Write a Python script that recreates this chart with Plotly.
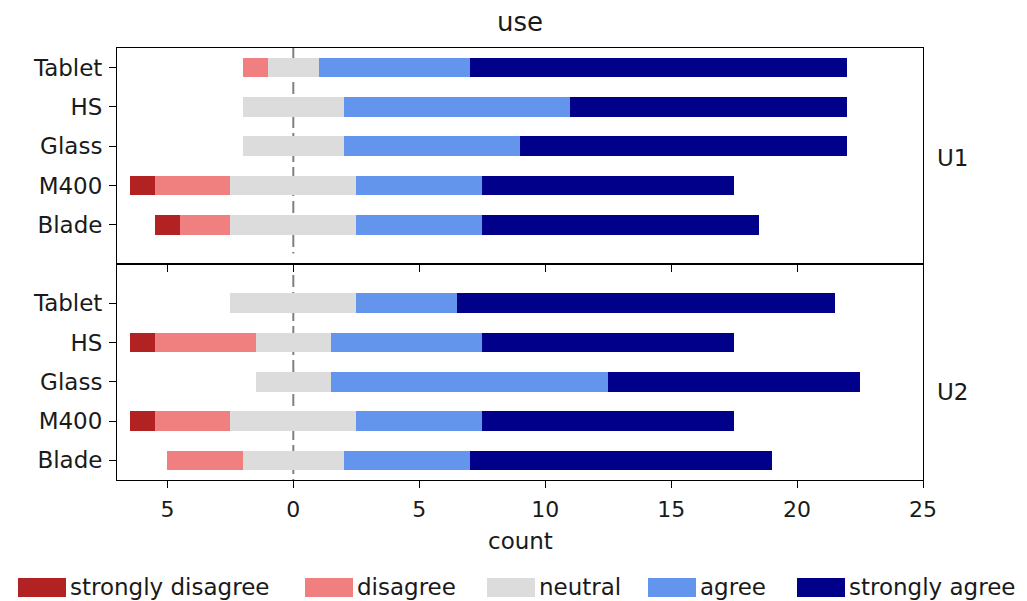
import plotly.graph_objects as go
from plotly.subplots import make_subplots

categories = ["Tablet", "HS", "Glass", "M400", "Blade"]
levels = ["strongly disagree", "disagree", "neutral", "agree", "strongly agree"]
colors = ["#b22222", "#f08080", "#dcdcdc", "#6495ed", "#00008b"]

# counts per level for each group (order of categories)
u1 = {
    "strongly disagree": [0, 0, 0, 1, 1],
    "disagree":          [1, 0, 0, 3, 2],
    "neutral":           [2, 4, 4, 5, 5],
    "agree":             [6, 9, 7, 5, 5],
    "strongly agree":    [15, 11, 13, 10, 11],
}
u2 = {
    "strongly disagree": [0, 1, 0, 1, 0],
    "disagree":          [0, 4, 0, 3, 3],
    "neutral":           [5, 3, 3, 5, 4],
    "agree":             [4, 6, 11, 5, 5],
    "strongly agree":    [15, 10, 10, 10, 12],
}
groups = [("U1", u1), ("U2", u2)]

x_tickvals = [-5, 0, 5, 10, 15, 20, 25]
x_ticktext = ["5", "0", "5", "10", "15", "20", "25"]

FONT = "DejaVu Sans"
INK = "#1a1a1a"
fig = make_subplots(rows=2, cols=1, shared_xaxes=True, vertical_spacing=0)

for r, (gname, data) in enumerate(groups, start=1):
    starts = [-(data["strongly disagree"][i] + data["disagree"][i] + data["neutral"][i] / 2)
              for i in range(len(categories))]
    cum = list(starts)
    for lvl, col in zip(levels, colors):
        vals = data[lvl]
        fig.add_trace(go.Bar(
            y=categories, x=vals, base=cum, orientation="h",
            marker=dict(color=col, line=dict(width=0)),
            width=0.5, name=lvl, showlegend=False,
        ), row=r, col=1)
        cum = [c + v for c, v in zip(cum, vals)]

axis_common = dict(showline=True, linecolor="black", linewidth=1, mirror=True,
                   ticks="outside", ticklen=7, tickcolor="black", showgrid=False,
                   zeroline=False)

fig.update_yaxes(type="category", categoryorder="array", categoryarray=categories,
                 tickfont=dict(family=FONT, size=23, color=INK), ticklabelstandoff=2,
                 **axis_common)
fig.update_yaxes(range=[5.0, -0.5], row=1, col=1)
fig.update_yaxes(range=[4.5, -1.0], row=2, col=1)
fig.update_xaxes(range=[-7, 25], tickvals=x_tickvals, ticktext=x_ticktext,
                 tickfont=dict(family=FONT, size=22, color=INK), ticklabelstandoff=3,
                 **axis_common)

# vertical dashed line at zero
dash_style = dict(color="gray", width=2, dash="12px,5px")
fig.add_shape(type="line", x0=0, x1=0, y0=-0.5, y1=4.73, xref="x", yref="y",
              line=dash_style, layer="below")
fig.add_shape(type="line", x0=0, x1=0, y0=-0.72, y1=4.5, xref="x2", yref="y2",
              line=dash_style, layer="below")

# page-pixel helpers (plot area: x 117..923, y 48..480 in the page)
PW, PH = 806, 432
FIG_H = 593
def px(x):
    return (x - 117) / PW
def py(y):
    return (480 - y) / PH

txt = dict(family=FONT, size=23, color=INK)
fig.add_annotation(text="count", x=0.5, y=py(541), xref="paper", yref="paper",
                   showarrow=False, font=txt, yanchor="middle")
fig.add_annotation(text="U1", x=px(935), y=py(158), xref="paper", yref="paper",
                   showarrow=False, xanchor="left", yanchor="middle", font=txt)
fig.add_annotation(text="U2", x=px(935), y=py(392), xref="paper", yref="paper",
                   showarrow=False, xanchor="left", yanchor="middle", font=txt)

# legend (patches + labels) below the axes
leg_font = dict(family=FONT, size=23, color=INK)
patch_left = [18, 305, 487, 648, 797]
for lvl, col, xl in zip(levels, colors, patch_left):
    fig.add_shape(type="rect", xref="paper", yref="paper",
                  x0=px(xl), x1=px(xl + 48), y0=py(597), y1=py(578),
                  fillcolor=col, line=dict(width=0))
    fig.add_annotation(text=lvl, x=px(xl + 50), y=py(587), xref="paper", yref="paper",
                       showarrow=False, xanchor="left", yanchor="middle", font=leg_font)

fig.update_layout(
    width=1011, height=FIG_H,
    margin=dict(l=109, r=96, t=40, b=121),
    title=dict(text="use", x=px(520), xanchor="center", xref="paper",
               y=1 - (22 - 8) / FIG_H, yanchor="middle", yref="container",
               font=dict(family=FONT, size=26, color=INK)),
    plot_bgcolor="white", paper_bgcolor="white",
    barmode="overlay", bargap=0,
    showlegend=False,
    font=dict(family=FONT),
)

fig.write_html("out.html")
